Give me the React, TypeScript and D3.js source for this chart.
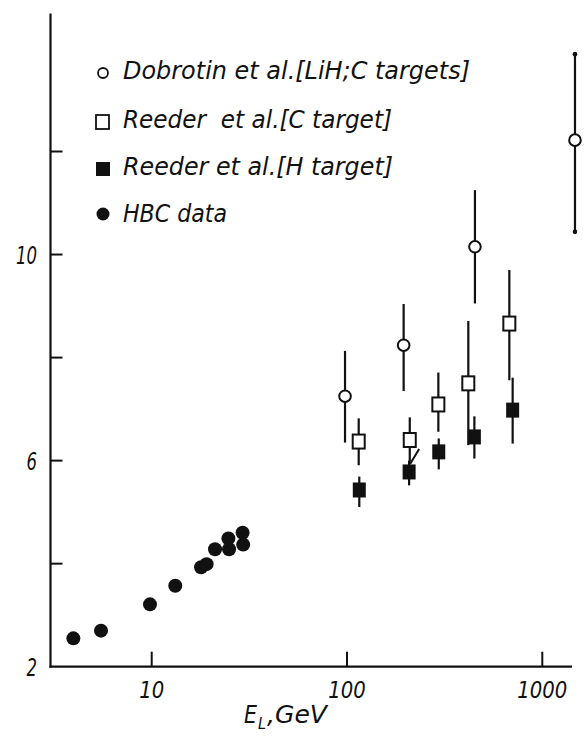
import React from "react";
import * as d3 from "d3";

// HBC data (filled circles)
const hbcEnergy = [3.97, 5.5, 9.8, 13.2, 17.9, 19.1, 21.1, 24.7, 24.9, 29.2, 29.4];
const hbcValue = [2.55, 2.7, 3.21, 3.57, 3.93, 3.99, 4.28, 4.49, 4.28, 4.6, 4.37];

// Dobrotin et al. [LiH; C targets] (open circles)
const dobEnergy = [97.7, 195, 452, 1470];
const dobValue = [7.25, 8.24, 10.15, 12.22];
const dobLow = [6.35, 7.35, 9.05, 10.44];
const dobHigh = [8.13, 9.04, 11.25, 13.89];

// Reeder et al. [C target] (open squares)
const recEnergy = [114.8, 209.6, 293.6, 418, 678];
const recValue = [6.37, 6.4, 7.09, 7.5, 8.66];
const recLow = [5.91, 5.98, 6.56, 6.3, 7.56];
const recHigh = [6.82, 6.84, 7.71, 8.71, 9.7];

// Reeder et al. [H target] (filled squares)
const rehEnergy = [115.6, 208, 295, 449, 705];
const rehValue = [5.43, 5.78, 6.17, 6.46, 6.98];
const rehLow = [5.1, 5.52, 5.83, 6.04, 6.33];
const rehHigh = [5.69, 6.0, 6.43, 6.86, 7.61];

// Axis ticks and labels
const xTickValues = [10, 100, 1000];
const xTickLabels = ["10", "100", "1000"];
const yTickValues = [4, 6, 8, 10, 12];
const yLabelValues = [2, 6, 10];
const yLabelTexts = ["2", "6", "10"];

const legendLabels = [
  "Dobrotin et al.[LiH;C targets]",
  "Reeder  et al.[C target]",
  "Reeder et al.[H target]",
  "HBC data",
];

const FONT = "'Liberation Sans Narrow', 'DejaVu Sans Condensed', 'DejaVu Sans', sans-serif";

export default function App() {
  const width = 587;
  const height = 736;

  const x = d3.scaleLog().domain([10, 1000]).range([151.7, 542.3]);
  const y = d3.scaleLinear().domain([2, 12]).range([666.7, 151.5]);

  const axisLeft = 50.5;
  const axisRight = 572;
  const axisTop = y(14.68);
  const axisBottom = y(2);

  const ink = "#111";

  const errBar = (e: number, lo: number, hi: number, key: string) => (
    <line
      key={key}
      x1={x(e)}
      x2={x(e)}
      y1={y(lo)}
      y2={y(hi)}
      stroke={ink}
      strokeWidth={2.2}
    />
  );

  const legendY = [70, 122, 169, 214];
  const legendBaseline = [79, 128, 175, 222];
  const legendWidths = [347, 269, 270, 104];

  return (
    <svg
      width={width}
      height={height}
      style={{ position: "absolute", left: 0, top: 0, background: "#fff" }}
    >
      <rect width={width} height={height} fill="#fff" />

      {/* axes */}
      <line x1={axisLeft} x2={axisLeft} y1={axisTop} y2={axisBottom + 1} stroke={ink} strokeWidth={2.2} />
      <line x1={axisLeft - 1} x2={axisRight} y1={axisBottom} y2={axisBottom} stroke={ink} strokeWidth={2.2} />

      {yTickValues.map((v) => (
        <line key={"yt" + v} x1={axisLeft} x2={axisLeft + 12} y1={y(v)} y2={y(v)} stroke={ink} strokeWidth={2} />
      ))}
      {xTickValues.map((v) => (
        <line key={"xt" + v} x1={x(v)} x2={x(v)} y1={axisBottom} y2={axisBottom - 15} stroke={ink} strokeWidth={2} />
      ))}

      {yLabelValues.map((v, i) => (
        <text
          key={"yl" + v}
          x={37}
          y={y(v) + 9}
          textAnchor="end"
          fontFamily={FONT}
          fontStyle="italic"
          fontSize={24}
          fill={ink}
          textLength={yLabelTexts[i].length * 10.5}
          lengthAdjust="spacingAndGlyphs"
        >
          {yLabelTexts[i]}
        </text>
      ))}
      {xTickValues.map((v, i) => (
        <text
          key={"xl" + v}
          x={x(v) - (xTickLabels[i].length * 12.5) / 2}
          y={698}
          fontFamily={FONT}
          fontStyle="italic"
          fontSize={23}
          fill={ink}
          textLength={xTickLabels[i].length * 12.5}
          lengthAdjust="spacingAndGlyphs"
        >
          {xTickLabels[i]}
        </text>
      ))}

      {/* axis title */}
      <g fontFamily={FONT} fontStyle="italic" fill={ink}>
        <text x={244} y={723} fontSize={24} textLength={13} lengthAdjust="spacingAndGlyphs">E</text>
        <text x={258} y={729} fontSize={16} textLength={8} lengthAdjust="spacingAndGlyphs">L</text>
        <text x={267} y={723} fontSize={24} textLength={60} lengthAdjust="spacingAndGlyphs">,GeV</text>
      </g>

      {/* error bars */}
      {dobEnergy.map((e, i) => errBar(e, dobLow[i], dobHigh[i], "de" + i))}
      {recEnergy.map((e, i) => errBar(e, recLow[i], recHigh[i], "ce" + i))}
      {rehEnergy.map((e, i) => errBar(e, rehLow[i], rehHigh[i], "he" + i))}

      {/* end dots on the highest-energy emulsion point */}
      <circle cx={x(dobEnergy[3])} cy={y(dobLow[3])} r={2.3} fill={ink} />
      <circle cx={x(dobEnergy[3])} cy={y(dobHigh[3])} r={2.3} fill={ink} />

      {/* stroke between the C and H points near 200 GeV */}
      <line
        x1={x(rehEnergy[1]) + 1}
        y1={y(rehValue[1]) - 8}
        x2={x(rehEnergy[1]) + 10}
        y2={y(rehValue[1]) - 23}
        stroke={ink}
        strokeWidth={2}
      />

      {/* markers */}
      {hbcEnergy.map((e, i) => (
        <circle key={"hbc" + i} cx={x(e)} cy={y(hbcValue[i])} r={7} fill={ink} />
      ))}
      {rehEnergy.map((e, i) => (
        <rect key={"reh" + i} x={x(e) - 6.5} y={y(rehValue[i]) - 7.5} width={13} height={15} fill={ink} />
      ))}
      {recEnergy.map((e, i) => (
        <rect
          key={"rec" + i}
          x={x(e) - 6}
          y={y(recValue[i]) - 7}
          width={12}
          height={14}
          fill="#fff"
          stroke={ink}
          strokeWidth={2}
        />
      ))}
      {dobEnergy.map((e, i) => (
        <circle key={"dob" + i} cx={x(e)} cy={y(dobValue[i])} r={5.8} fill="#fff" stroke={ink} strokeWidth={2} />
      ))}

      {/* legend */}
      <circle cx={103} cy={legendY[0] + 3} r={5} fill="#fff" stroke={ink} strokeWidth={1.8} />
      <rect x={96} y={legendY[1] - 7} width={13} height={14} fill="#fff" stroke={ink} strokeWidth={1.8} />
      <rect x={96} y={legendY[2] - 7} width={14} height={14} fill={ink} />
      <circle cx={103} cy={legendY[3]} r={6.5} fill={ink} />
      {legendLabels.map((t, i) => (
        <text
          key={"lg" + i}
          x={123}
          y={legendBaseline[i]}
          fontFamily={FONT}
          fontStyle="italic"
          fontSize={25}
          fill={ink}
          textLength={legendWidths[i]}
          lengthAdjust="spacingAndGlyphs"
          style={{ whiteSpace: "pre" }}
        >
          {t}
        </text>
      ))}
    </svg>
  );
}
